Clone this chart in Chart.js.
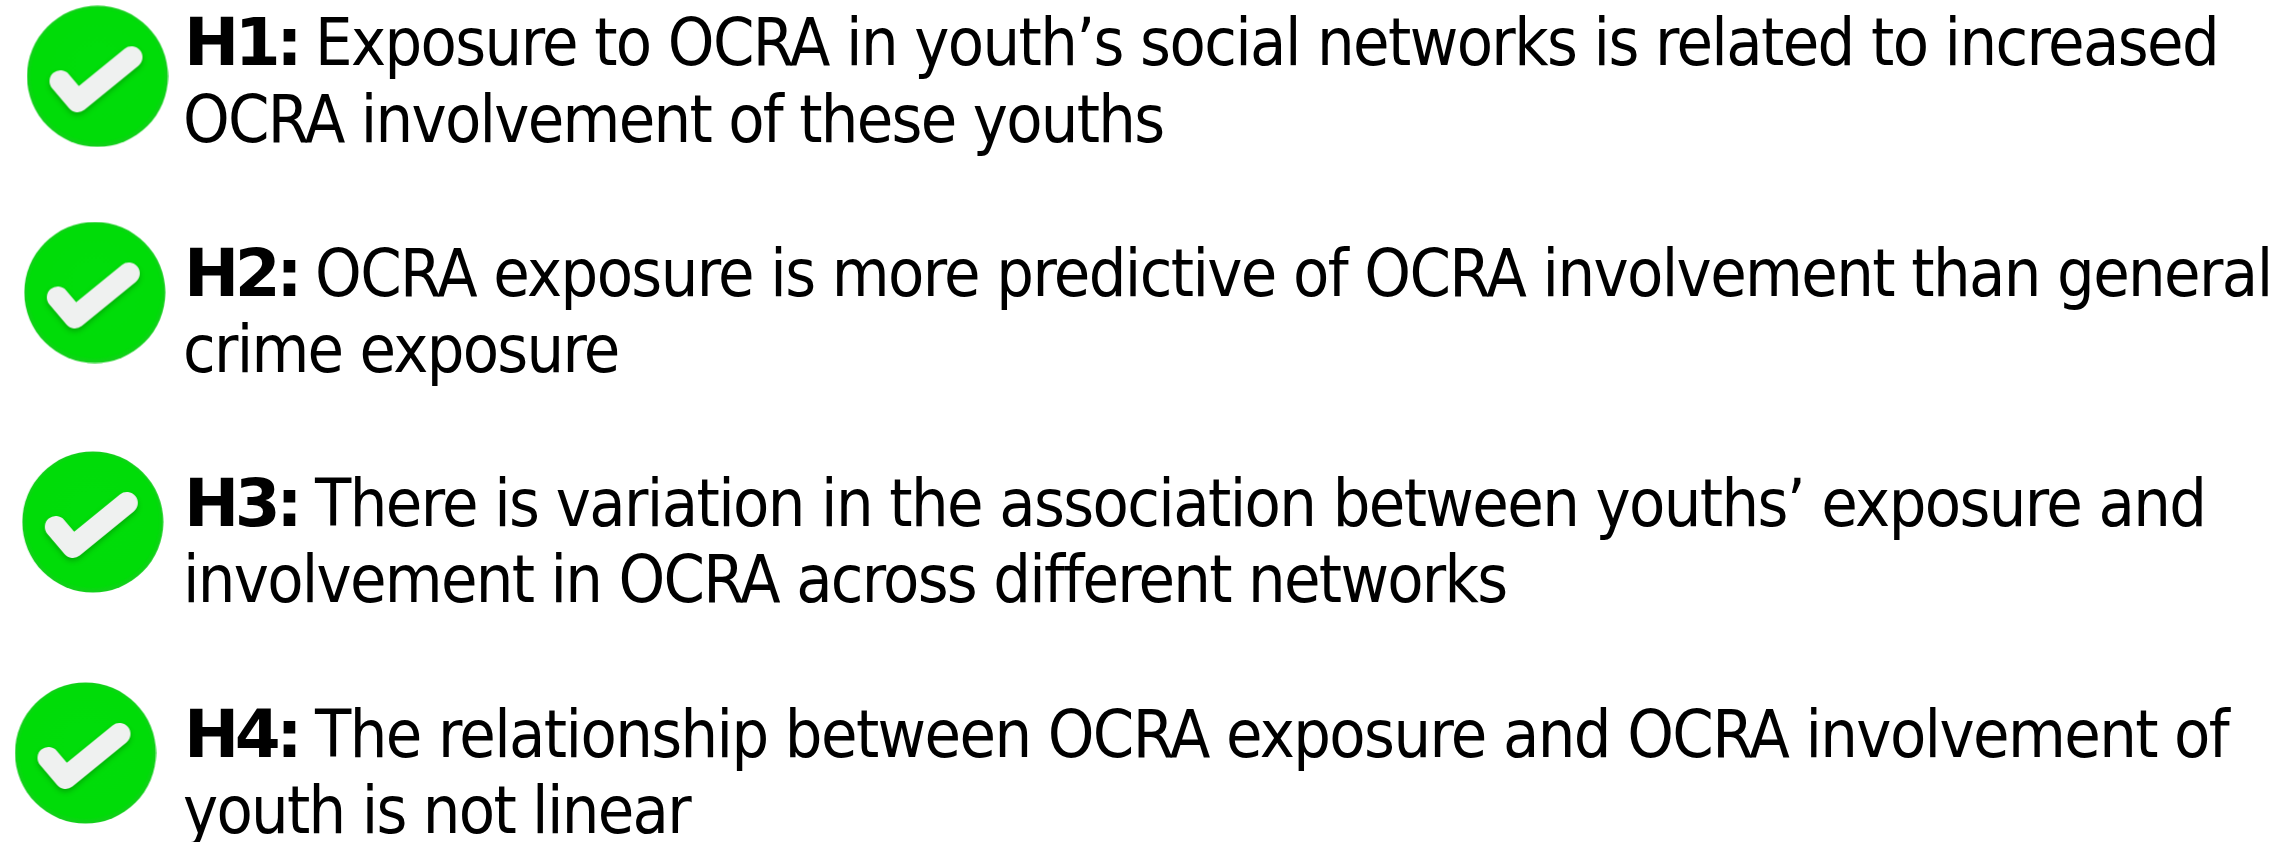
<!DOCTYPE html>
<html lang="en">

<head>
    <meta charset="UTF-8">
    <title>Hypotheses</title>
    <script src="https://cdn.jsdelivr.net/npm/chart.js"></script>
    <style>
        html, body { margin: 0; padding: 0; background: #fff; overflow: hidden; }
        .wrapper { width: 2286px; height: 842px; }
    </style>
</head>

<body>
    <div class="wrapper">
        <canvas id="hypoChart" width="2286" height="842"></canvas>
    </div>

    <script>
        const labels = ['H1:', 'H2:', 'H3:', 'H4:'];
        const firstLines = [
            'Exposure to OCRA in youth\u2019s social networks is related to increased',
            'OCRA exposure is more predictive of OCRA involvement than general',
            'There is variation in the association between youths\u2019 exposure and',
            'The relationship between OCRA exposure and OCRA involvement of',
        ];
        const secondLines = [
            'OCRA involvement of these youths',
            'crime exposure',
            'involvement in OCRA across different networks',
            'youth is not linear',
        ];
        const badgeX = [97.5, 94.8, 92.8, 85.5];
        const badgeY = [76.3, 292.5, 522, 753];
        const lineOneY = [65, 296, 526, 757];
        const lineTwoY = [141.5, 372, 602, 832.7];

        // green tick badge, used as the point image
        function makeBadge() {
            const c = document.createElement('canvas');
            c.width = 142;
            c.height = 142;
            const g = c.getContext('2d');
            const grad = g.createRadialGradient(71, 60, 20, 71, 71, 71);
            grad.addColorStop(0, '#00dd0a');
            grad.addColorStop(0.9, '#00dc08');
            grad.addColorStop(1, '#18cc20');
            g.fillStyle = grad;
            g.beginPath();
            g.arc(71, 71, 70.5, 0, Math.PI * 2);
            g.fill();

            g.shadowColor = 'rgba(0,90,0,0.35)';
            g.shadowBlur = 5;
            g.shadowOffsetY = 3;
            g.strokeStyle = '#eff1f0';
            g.lineWidth = 22;
            g.lineCap = 'round';
            g.lineJoin = 'round';
            g.beginPath();
            g.moveTo(34, 76);
            g.lineTo(51, 96);
            g.lineTo(105, 52);
            g.stroke();
            return c;
        }

        const textPlugin = {
            id: 'hypoText',
            afterDatasetsDraw(chart) {
                const { ctx, scales: { x, y } } = chart;
                ctx.save();
                ctx.fillStyle = '#000';
                ctx.textBaseline = 'alphabetic';
                labels.forEach((lab, i) => {
                    ctx.font = 'bold 66px "DejaVu Sans", sans-serif';
                    ctx.letterSpacing = '-4.5px';
                    ctx.fillText(lab, x.getPixelForValue(184), y.getPixelForValue(lineOneY[i]));
                    ctx.font = '66px "DejaVu Sans Condensed", "DejaVu Sans", sans-serif';
                    ctx.letterSpacing = '-1.6px';
                    ctx.fillText(firstLines[i], x.getPixelForValue(315), y.getPixelForValue(lineOneY[i]));
                    ctx.letterSpacing = '-1.7px';
                    ctx.fillText(secondLines[i], x.getPixelForValue(183), y.getPixelForValue(lineTwoY[i]));
                });
                ctx.restore();
            }
        };

        new Chart(document.getElementById('hypoChart').getContext('2d'), {
            type: 'scatter',
            data: {
                datasets: [{
                    data: badgeX.map((v, i) => ({ x: v, y: badgeY[i] })),
                    pointStyle: makeBadge(),
                    pointRadius: 71,
                    pointHoverRadius: 71,
                    clip: false,
                }]
            },
            options: {
                responsive: false,
                animation: false,
                layout: { padding: 0, autoPadding: false },
                plugins: { legend: { display: false }, tooltip: { enabled: false } },
                scales: {
                    x: { type: 'linear', display: false, min: 0, max: 2286 },
                    y: { type: 'linear', display: false, min: 0, max: 842, reverse: true }
                }
            },
            plugins: [textPlugin]
        });
    </script>
</body>

</html>
